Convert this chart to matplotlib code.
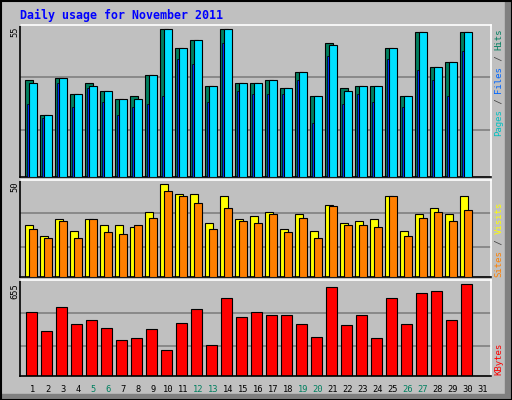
import matplotlib
matplotlib.use("Agg")
import matplotlib.pyplot as plt
from matplotlib.patches import Rectangle
import numpy as np

days = list(range(1, 32))
weekend = [5, 6, 12, 13, 19, 20, 26, 27]
hits  = [36,23,37,31,35,32,29,30,38,55,48,51,34,55,35,35,36,33,39,30,50,33,34,34,48,30,54,41,43,54,0]
files = [35,23,37,31,34,32,29,29,38,55,48,51,34,55,35,35,36,33,39,30,49,32,34,34,48,30,54,41,43,54,0]
pages = [27,22,35,26,33,28,23,26,27,30,44,42,28,50,32,31,31,31,36,20,45,27,31,28,44,26,40,36,30,47,0]
visits = [28.3,22.3,31.5,25.0,31.5,28.3,28.3,27.2,35.3,50,45.1,45.1,29.4,44.0,31.5,33.2,35.3,26.1,34.2,25.0,39.1,29.4,30.4,31.5,44.0,25.0,34.2,37.5,34.2,44.0,0]
sites  = [26.1,21.2,30.4,21.2,31.5,24.5,23.4,28.3,32.1,46.2,43.5,40.2,26.1,37.5,30.4,29.4,34.2,24.5,32.1,21.2,38.1,28.3,28.3,27.2,44.0,22.3,32.1,35.3,30.4,36.4,0]
kbytes = [453,324,489,374,396,345,259,273,338,187,381,475,223,554,417,453,432,432,374,281,633,360,432,273,554,367,590,605,396,655,0]

W, H = 512, 400
fig = plt.figure(figsize=(W/100, H/100), dpi=100)
fig.patch.set_facecolor("#c0c0c0")
mono = "DejaVu Sans Mono"

# frame: shadow + border
fig.add_artist(Rectangle((505/W, 0), 7/W, 1, transform=fig.transFigure, color="#808080", zorder=0))
fig.add_artist(Rectangle((0, 0), 1, 6/H, transform=fig.transFigure, color="#808080", zorder=0))
fig.add_artist(Rectangle((0.5/W, 0.5/H), 1-1/W, 1-1/H, transform=fig.transFigure, fill=False, ec="black", lw=1.5, zorder=5))

def px_axes(x0, y0, x1, y1):
    return fig.add_axes([x0/W, 1-y1/H, (x1-x0)/W, (y1-y0)/H])

d = np.array(days)
XL = (0.133, 31.53)

def setup(ax, ylim, label):
    ax.set_facecolor("#c0c0c0")
    ax.set_xlim(*XL); ax.set_ylim(0, ylim)
    ax.set_xticks([]); ax.set_yticks([])
    for f in (0.31, 0.655):
        ax.axhline(f*ylim, color="#808080", lw=1.2, zorder=0)
    for s in ("left", "bottom"):
        ax.spines[s].set_color("black")
    for s in ("top", "right"):
        ax.spines[s].set_color("white")
    for s in ax.spines.values():
        s.set_linewidth(1.2)

# top panel
ax1 = px_axes(20, 25, 491, 177)
setup(ax1, 56.6, "")
kw = dict(align="edge", edgecolor="black", linewidth=0.8)
ax1.bar(d-0.51, hits, 0.49, color="#007f5f", **kw, zorder=2)
ax1.bar(d-0.42, pages, 0.17, color="#0033ff", edgecolor="black", linewidth=0.5, align="edge", zorder=3)
ax1.bar(d-0.247, files, 0.49, color="#00e0ff", **kw, zorder=4)

ax2 = px_axes(20, 180, 491, 277)
setup(ax2, 52.4, "")
ax2.bar(d-0.51, visits, 0.53, color="#ffff00", **kw, zorder=2)
ax2.bar(d-0.247, sites, 0.49, color="#ff7f00", **kw, zorder=3)

ax3 = px_axes(20, 280, 491, 376)
setup(ax3, 684, "")
ax3.bar(d-0.447, kbytes, 0.69, color="#ff0000", **kw, zorder=2)

fig.text(20/W, 1-15/H, "Daily usage for November 2011", family=mono, weight="bold",
         color="#0000ff", fontsize=8.4, va="center", ha="left")

# day labels
for dd in days:
    x = (33 + 15*(dd-1))/W
    fig.text(x, 1-389/H, str(dd), family=mono, fontsize=6.3, ha="center", va="center",
             color="#007f5f" if dd in weekend else "black")

# left max labels
for y, t in [(32, "55"), (187, "50"), (291, "655")]:
    fig.text(15/W, 1-y/H, t, family=mono, fontsize=6.3, rotation=90, ha="center", va="center")

def vlabel(y_start, pieces):
    cw = 5.4
    y = y_start
    for t, c in pieces:
        fig.text(499/W, 1-y/H, t, family=mono, fontsize=6.5, rotation=90, rotation_mode="anchor",
                 ha="left", va="center", color=c)
        y -= cw*len(t)

vlabel(136, [("Pages", "#00c0c0"), (" / ", "#404040"), ("Files", "#0066ff"), (" / ", "#404040"), ("Hits", "#007f5f")])
vlabel(277, [("Sites", "#ff8000"), (" / ", "#404040"), ("Visits", "#ffff00")])
vlabel(375, [("KBytes", "#ff0000")])

fig.savefig("out.png", dpi=100, facecolor=fig.get_facecolor())
